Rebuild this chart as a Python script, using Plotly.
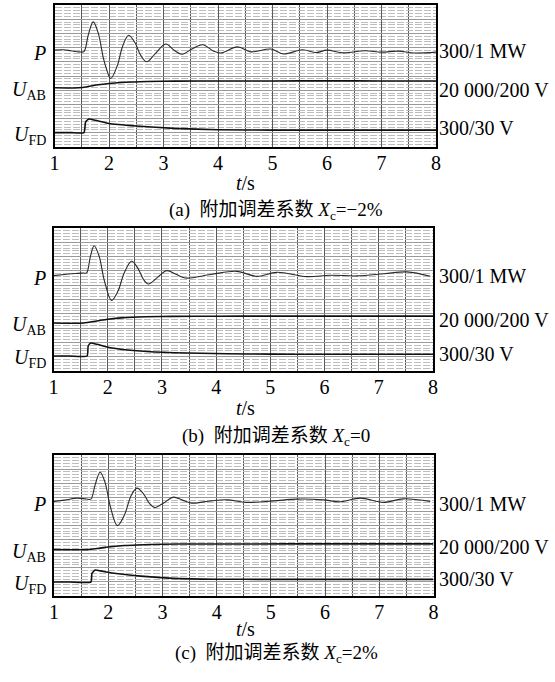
import plotly.graph_objects as go

W, H = 555, 682

# ---------------- data ----------------
TICK_VALS = [1, 2, 3, 4, 5, 6, 7, 8]
TICK_TEXT = ["1", "2", "3", "4", "5", "6", "7", "8"]

# panel (a)  Xc = -2%
TA_P = [1.00, 1.15, 1.30, 1.45, 1.54, 1.62, 1.71, 1.80, 1.90, 1.95, 2.03, 2.15, 2.25, 2.36, 2.48, 2.58,
        2.69, 2.85, 3.04, 3.20, 3.34, 3.52, 3.72, 3.92, 4.05, 4.36, 4.60, 4.97, 5.20, 5.55, 5.80,
        6.00, 6.30, 6.70, 7.00, 7.30, 7.60, 8.00]
PA = [6.82, 6.85, 6.78, 6.70, 6.72, 7.90, 8.81, 8.05, 6.20, 5.55, 4.82, 5.70, 7.10, 7.87, 7.32, 6.47,
      6.00, 6.58, 7.25, 6.80, 6.53, 6.90, 7.20, 6.75, 6.62, 7.05, 6.70, 6.90, 6.55, 6.85, 6.65,
      6.82, 6.63, 6.78, 6.68, 6.75, 6.62, 6.68]
TA_U = [1.0, 1.45, 1.6, 1.8, 2.0, 2.3, 2.7, 3.2, 4.0, 5.0, 6.0, 7.0, 8.0]
UA = [4.17, 4.17, 4.24, 4.38, 4.47, 4.56, 4.61, 4.64, 4.65, 4.65, 4.66, 4.65, 4.65]
TA_F = [1.0, 1.3, 1.54, 1.57, 1.63, 1.75, 2.0, 2.5, 3.2, 4.0, 5.0, 6.0, 7.0, 8.0]
FA = [1.01, 1.01, 1.01, 1.75, 1.97, 1.88, 1.66, 1.48, 1.31, 1.22, 1.19, 1.19, 1.19, 1.19]

# panel (b)  Xc = 0
TB_P = [1.00, 1.20, 1.40, 1.55, 1.61, 1.68, 1.75, 1.84, 1.94, 2.07, 2.19, 2.30, 2.44, 2.56, 2.66,
        2.75, 2.92, 3.09, 3.26, 3.43, 3.90, 4.38, 4.75, 5.12, 5.67, 6.10, 6.60, 7.10, 7.52, 7.95]
PB = [6.67, 6.75, 6.82, 6.85, 6.86, 8.00, 8.76, 8.05, 6.29, 4.94, 5.59, 6.82, 7.67, 7.16, 6.40,
      6.08, 6.55, 7.02, 6.76, 6.50, 6.75, 6.97, 6.62, 6.90, 6.60, 6.70, 6.65, 6.80, 6.93, 6.62]
TB_U = [1.0, 1.55, 1.8, 2.0, 2.3, 2.7, 3.2, 4.0, 5.0, 6.0, 7.0, 8.0]
UB = [3.36, 3.36, 3.50, 3.62, 3.73, 3.79, 3.82, 3.83, 3.84, 3.84, 3.84, 3.84]
TB_F = [1.0, 1.3, 1.62, 1.64, 1.69, 1.8, 2.05, 2.6, 3.22, 4.2, 5.0, 6.0, 7.0, 8.0]
FB = [1.05, 1.05, 1.05, 1.75, 1.96, 1.87, 1.63, 1.40, 1.28, 1.21, 1.18, 1.17, 1.17, 1.17]

# panel (c)  Xc = 2%
TC_P = [1.00, 1.20, 1.42, 1.60, 1.68, 1.76, 1.85, 1.94, 2.04, 2.17, 2.30, 2.42, 2.53, 2.65, 2.76,
        2.86, 3.03, 3.20, 3.37, 3.54, 3.90, 4.19, 4.55, 5.05, 5.48, 5.97, 6.28, 6.65, 7.08, 7.44, 7.94]
PC = [6.71, 6.80, 6.94, 6.88, 6.87, 7.90, 8.78, 8.08, 6.33, 4.99, 5.75, 7.10, 7.65, 7.25, 6.56,
      6.28, 6.62, 7.01, 6.80, 6.59, 6.75, 6.82, 6.64, 6.75, 6.87, 6.82, 6.68, 6.94, 6.64, 6.89, 6.71]
TC_U = [1.0, 1.63, 1.8, 2.0, 2.3, 2.53, 3.0, 3.5, 4.5, 6.0, 8.0]
UC = [3.29, 3.29, 3.37, 3.48, 3.58, 3.62, 3.67, 3.69, 3.69, 3.70, 3.70]
TC_F = [1.0, 1.3, 1.68, 1.70, 1.76, 1.86, 2.04, 2.6, 3.2, 4.0, 5.0, 6.0, 7.0, 8.0]
FC = [0.99, 0.99, 0.99, 1.60, 1.84, 1.78, 1.65, 1.41, 1.25, 1.19, 1.18, 1.18, 1.18, 1.18]

CAPTIONS = ["(a)\u2002附加调差系数 <i>X</i><sub>c</sub>=\u22122%",
            "(b)\u2002附加调差系数 <i>X</i><sub>c</sub>=0",
            "(c)\u2002附加调差系数 <i>X</i><sub>c</sub>=2%"]
RIGHT_LABELS = ["300/1 MW", "20 000/200 V", "300/30 V"]
LEFT_LABELS = ["<i>P</i>", "<i>U</i><sub>AB</sub>", "<i>U</i><sub>FD</sub>"]

# ---------------- layout geometry (pixels) ----------------
panels = [
    dict(x0=54.5, x1=436, y0=5, y1=147, title_y=183, cap_y=211, right_y=[51, 90, 128],
         P=(TA_P, PA), U=(TA_U, UA), F=(TA_F, FA)),
    dict(x0=53.5, x1=433, y0=228, y1=371, title_y=408, cap_y=437, right_y=[276, 320, 354],
         P=(TB_P, PB), U=(TB_U, UB), F=(TB_F, FB)),
    dict(x0=54, x1=433.5, y0=455, y1=596, title_y=629, cap_y=654, right_y=[504, 547, 579],
         P=(TC_P, PC), U=(TC_U, UC), F=(TC_F, FC)),
]

FONT = "Liberation Serif, Noto Sans CJK SC, serif"
FS = 20


def px(x):
    return x / W


def py(y):
    return 1 - y / H


fig = go.Figure()
annotations = []
layout = {}

for i, p in enumerate(panels, start=1):
    xa = "x" if i == 1 else f"x{i}"
    ya = "y" if i == 1 else f"y{i}"
    tp, vp = p["P"]
    tu, vu = p["U"]
    tf, vf = p["F"]
    fig.add_trace(go.Scatter(x=tp, y=vp, xaxis=xa, yaxis=ya, mode="lines",
                             line=dict(color="#2a2a2a", width=1.1, shape="spline", smoothing=1.0),
                             showlegend=False, hoverinfo="skip"))
    fig.add_trace(go.Scatter(x=tu, y=vu, xaxis=xa, yaxis=ya, mode="lines",
                             line=dict(color="#111111", width=1.6, shape="spline", smoothing=0.8),
                             showlegend=False, hoverinfo="skip"))
    fig.add_trace(go.Scatter(x=tf, y=vf, xaxis=xa, yaxis=ya, mode="lines",
                             line=dict(color="#111111", width=1.6, shape="spline", smoothing=0.5),
                             showlegend=False, hoverinfo="skip"))

    layout["xaxis" if i == 1 else f"xaxis{i}"] = dict(
        domain=[px(p["x0"]), px(p["x1"])], anchor=ya, range=[1, 8],
        tickvals=TICK_VALS, ticktext=TICK_TEXT, ticks="", showgrid=True,
        gridcolor="#5a5a5a", gridwidth=1,
        minor=dict(tick0=1, dtick=0.5, showgrid=True, gridcolor="#5a5a5a", gridwidth=1),
        showline=True, mirror=True, linecolor="black", linewidth=1.6,
        zeroline=False, automargin=False,
        tickfont=dict(family=FONT, size=FS, color="black"), ticklabelstandoff=-3,
        fixedrange=True)
    layout["yaxis" if i == 1 else f"yaxis{i}"] = dict(
        domain=[py(p["y1"]), py(p["y0"])], anchor=xa, range=[0, 10],
        dtick=1, tick0=0, showticklabels=False, ticks="", showgrid=True,
        gridcolor="#9a9a9a", gridwidth=1,
        minor=dict(dtick=0.2, showgrid=True, gridcolor="#bdbdbd", gridwidth=1, griddash="7px,2px"),
        showline=True, mirror=True, linecolor="black", linewidth=1.6,
        zeroline=False, automargin=False, fixedrange=True)

    # left labels, next to the start of each trace
    left_y = [vp[0] - 0.2, vu[0] - 0.2, vf[0] - 0.2]
    for txt, yv in zip(LEFT_LABELS, left_y):
        annotations.append(dict(text=txt, xref="paper", x=px(48), xanchor="right",
                                yref=ya, y=yv, yanchor="middle", showarrow=False,
                                font=dict(family=FONT, size=FS, color="black")))
    # right scale labels
    for txt, yy in zip(RIGHT_LABELS, p["right_y"]):
        annotations.append(dict(text=txt, xref="paper", x=px(437), xanchor="left",
                                yref="paper", y=py(yy), yanchor="middle", showarrow=False,
                                font=dict(family=FONT, size=FS, color="black")))
    # axis title
    annotations.append(dict(text="<i>t</i>/s", xref="paper", x=px(245), xanchor="center",
                            yref="paper", y=py(p["title_y"]), yanchor="middle", showarrow=False,
                            font=dict(family=FONT, size=FS, color="black")))
    # caption
    annotations.append(dict(text=CAPTIONS[i - 1], xref="paper", x=px(276), xanchor="center",
                            yref="paper", y=py(p["cap_y"]), yanchor="middle", showarrow=False,
                            font=dict(family=FONT, size=FS - 1, color="black")))

fig.update_layout(**layout)
fig.update_layout(width=W, height=H, margin=dict(l=0, r=0, t=0, b=0),
                  paper_bgcolor="white", plot_bgcolor="white",
                  annotations=annotations, showlegend=False)

fig.write_html("out.html", config={"displayModeBar": False},
               post_script="document.body.style.margin='0';document.body.style.overflow='hidden';")
